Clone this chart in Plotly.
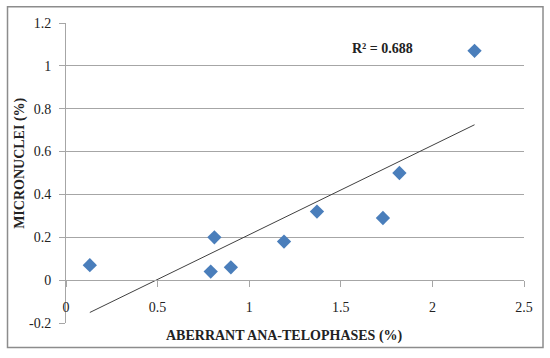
import numpy as np
import plotly.graph_objects as go

aberrant = [0.13, 0.79, 0.81, 0.90, 1.19, 1.37, 1.73, 1.82, 2.23]
micronuclei = [0.07, 0.04, 0.20, 0.06, 0.18, 0.32, 0.29, 0.50, 1.07]
x_ticks = [0, 0.5, 1, 1.5, 2, 2.5]
x_tick_labels = ["0", "0.5", "1", "1.5", "2", "2.5"]
y_ticks = [-0.2, 0, 0.2, 0.4, 0.6, 0.8, 1, 1.2]
y_tick_labels = ["-0.2", "0", "0.2", "0.4", "0.6", "0.8", "1", "1.2"]
r2_text = "R² = 0.688"
x_title = "ABERRANT ANA-TELOPHASES (%)"
y_title = "MICRONUCLEI (%)"

slope, intercept = np.polyfit(aberrant, micronuclei, 1)
fit_x = [min(aberrant), max(aberrant)]
fit_y = [slope * v + intercept for v in fit_x]

FONT = "Liberation Serif"
GRID = "#a6a6a6"
TXT = "#222"

fig = go.Figure()
fig.add_trace(go.Scatter(x=fit_x, y=fit_y, mode="lines",
                         line=dict(color="#404040", width=1), hoverinfo="skip"))
fig.add_trace(go.Scatter(x=aberrant, y=micronuclei, mode="markers",
                         marker=dict(symbol="diamond", size=11, color="#4a7ebb")))

ymin, ymax = -0.2, 1.2
fig.update_layout(
    width=550, height=358,
    margin=dict(l=66, r=26, t=23, b=35),
    paper_bgcolor="white", plot_bgcolor="white",
    showlegend=False,
    font=dict(family=FONT, size=14, color=TXT),
    xaxis=dict(range=[0, 2.5], tickvals=x_ticks, ticktext=x_tick_labels,
               showgrid=False, zeroline=False, automargin=False,
               showline=True, linecolor=GRID, linewidth=1,
               ticks="outside", ticklen=6, tickcolor=GRID,
               anchor="free", position=(0 - ymin) / (ymax - ymin),
               ticklabelstandoff=8,
               tickfont=dict(family=FONT, size=14, color=TXT)),
    yaxis=dict(range=[ymin, ymax], tickvals=y_ticks, ticktext=y_tick_labels,
               showgrid=True, gridcolor=GRID, gridwidth=1, zeroline=False,
               automargin=False,
               showline=True, linecolor=GRID, linewidth=1,
               ticks="outside", ticklen=6, tickcolor=GRID,
               ticklabelstandoff=5,
               tickfont=dict(family=FONT, size=14, color=TXT)),
)

fig.add_annotation(x=0.477, y=-0.042, xref="paper", yref="paper",
                   text="<b>" + x_title + "</b>", showarrow=False,
                   xanchor="center", yanchor="middle",
                   font=dict(family=FONT, size=14, color=TXT))
fig.add_annotation(x=-0.101, y=0.533, xref="paper", yref="paper",
                   text="<b>" + y_title + "</b>", showarrow=False, textangle=-90,
                   xanchor="center", yanchor="middle",
                   font=dict(family=FONT, size=14, color=TXT))
fig.add_annotation(x=1.73, y=1.081, xref="x", yref="y",
                   text="<b>" + r2_text + "</b>", showarrow=False,
                   font=dict(family=FONT, size=14, color=TXT))

fig.add_shape(type="rect", xref="paper", yref="paper",
              x0=-0.1277, x1=1.0415, y0=-0.082, y1=1.054,
              line=dict(color="#8c8c8c", width=1.5), layer="above")

fig.write_html("out.html", config={"displayModeBar": False},
               post_script="document.body.style.margin='0';document.body.style.padding='0';")
